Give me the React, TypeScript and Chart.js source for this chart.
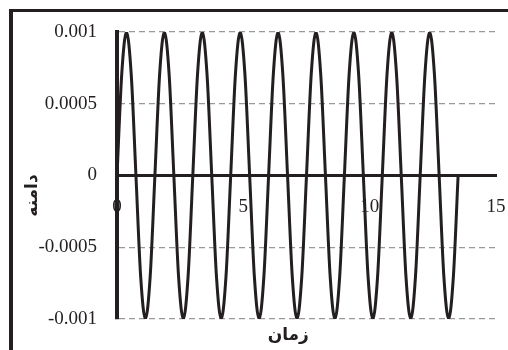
import React, { useEffect, useRef } from "react";
import { Chart, registerables } from "chart.js";

Chart.register(...registerables);

// time (x) values: nine cycles, ending at 13.5
const timeValues = [
  0, 0.1875, 0.375, 0.5625, 0.75, 0.9375, 1.125, 1.3125,
  1.5, 1.6875, 1.875, 2.0625, 2.25, 2.4375, 2.625, 2.8125,
  3, 3.1875, 3.375, 3.5625, 3.75, 3.9375, 4.125, 4.3125,
  4.5, 4.6875, 4.875, 5.0625, 5.25, 5.4375, 5.625, 5.8125,
  6, 6.1875, 6.375, 6.5625, 6.75, 6.9375, 7.125, 7.3125,
  7.5, 7.6875, 7.875, 8.0625, 8.25, 8.4375, 8.625, 8.8125,
  9, 9.1875, 9.375, 9.5625, 9.75, 9.9375, 10.125, 10.3125,
  10.5, 10.6875, 10.875, 11.0625, 11.25, 11.4375, 11.625, 11.8125,
  12, 12.1875, 12.375, 12.5625, 12.75, 12.9375, 13.125, 13.3125,
  13.5,
];

// amplitude values
const amplitudeValues = [
  0, 0.000707, 0.001, 0.000707, 0, -0.000707, -0.001, -0.000707,
  0, 0.000707, 0.001, 0.000707, 0, -0.000707, -0.001, -0.000707,
  0, 0.000707, 0.001, 0.000707, 0, -0.000707, -0.001, -0.000707,
  0, 0.000707, 0.001, 0.000707, 0, -0.000707, -0.001, -0.000707,
  0, 0.000707, 0.001, 0.000707, 0, -0.000707, -0.001, -0.000707,
  0, 0.000707, 0.001, 0.000707, 0, -0.000707, -0.001, -0.000707,
  0, 0.000707, 0.001, 0.000707, 0, -0.000707, -0.001, -0.000707,
  0, 0.000707, 0.001, 0.000707, 0, -0.000707, -0.001, -0.000707,
  0, 0.000707, 0.001, 0.000707, 0, -0.000707, -0.001, -0.000707,
  0,
];

const xTickValues = [0, 5, 10, 15];
const xTickLabels = ["0", "5", "10", "15"];
const yTickValues = [-0.001, -0.0005, 0, 0.0005, 0.001];
const yTickLabels = ["-0.001", "-0.0005", "0", "0.0005", "0.001"];

const xTitle = "زمان";
const yTitle = "دامنه";

const INK = "#231f20";
const TICK_FONT = { family: "'Liberation Serif', 'Times New Roman', serif", size: 19 };
const TITLE_FONT = "bold 17px 'DejaVu Sans', sans-serif";

const decorPlugin = {
  id: "decor",
  beforeDraw(chart: any) {
    const { ctx, width, height } = chart;
    ctx.save();
    ctx.fillStyle = "#ffffff";
    ctx.fillRect(0, 0, width, height);
    ctx.strokeStyle = INK;
    ctx.lineWidth = 3;
    ctx.beginPath();
    ctx.moveTo(9, 10.5);
    ctx.lineTo(width + 5, 10.5);
    ctx.stroke();
    ctx.lineWidth = 4;
    ctx.beginPath();
    ctx.moveTo(11, 9);
    ctx.lineTo(11, height + 5);
    ctx.stroke();
    ctx.restore();
  },
  afterDraw(chart: any) {
    const { ctx, chartArea } = chart;
    ctx.save();
    ctx.fillStyle = INK;
    ctx.font = TITLE_FONT;
    ctx.textAlign = "center";
    ctx.textBaseline = "middle";
    // x title
    ctx.fillText(xTitle, chartArea.left + (chartArea.right - chartArea.left) * 0.452, chartArea.bottom + 17);
    // y title
    ctx.translate(chartArea.left - 84, (chartArea.top + chartArea.bottom) / 2 + 20);
    ctx.rotate(-Math.PI / 2);
    ctx.fillText(yTitle, 0, 0);
    ctx.restore();
  },
};

export default function App() {
  const canvasRef = useRef<HTMLCanvasElement | null>(null);

  useEffect(() => {
    const canvas = canvasRef.current;
    if (!canvas) return;
    const chart = new Chart(canvas, {
      type: "line",
      data: {
        datasets: [
          {
            data: timeValues.map((t, i) => ({ x: t, y: amplitudeValues[i] })),
            borderColor: INK,
            borderWidth: 3,
            pointRadius: 0,
            fill: false,
            cubicInterpolationMode: "monotone",
          },
        ],
      },
      options: {
        animation: false,
        responsive: false,
        events: [],
        layout: { padding: { left: 0, top: 32, right: 12, bottom: 31 } },
        plugins: { legend: { display: false }, tooltip: { enabled: false }, title: { display: false } },
        scales: {
          x: {
            type: "linear",
            position: { y: 0 } as any,
            min: 0,
            max: 15,
            grid: { display: false, drawTicks: false },
            border: { display: true, width: 3, color: INK },
            afterBuildTicks: (scale: any) => {
              scale.ticks = xTickValues.map((v) => ({ value: v }));
            },
            afterFit: (scale: any) => {
              scale.paddingLeft = 0;
              scale.paddingRight = 0;
            },
            ticks: {
              padding: 20,
              color: INK,
              font: TICK_FONT,
              maxRotation: 0,
              autoSkip: false,
              callback: (_v: any, i: number) => xTickLabels[i],
            },
          },
          y: {
            type: "linear",
            position: "left",
            min: -0.001,
            max: 0.001,
            afterFit: (scale: any) => {
              scale.width = 117;
              scale.paddingTop = 0;
              scale.paddingBottom = 0;
            },
            afterBuildTicks: (scale: any) => {
              scale.ticks = yTickValues.map((v) => ({ value: v }));
            },
            grid: {
              drawTicks: false,
              lineWidth: 1.3,
              color: (c: any) => (c.tick && c.tick.value === 0 ? "rgba(0,0,0,0)" : "#999999"),
            },
            border: { display: true, width: 4, color: INK, dash: [6, 4] },
            ticks: {
              padding: 20,
              color: INK,
              font: TICK_FONT,
              autoSkip: false,
              callback: (_v: any, i: number) => yTickLabels[i],
            },
          },
        },
      },
      plugins: [decorPlugin],
    } as any);
    return () => chart.destroy();
  }, []);

  return (
    <div style={{ position: "fixed", left: 0, top: 0, width: 508, height: 350, overflow: "hidden", background: "#fff" }}>
      <canvas ref={canvasRef} width={508} height={350} style={{ display: "block" }} />
    </div>
  );
}
